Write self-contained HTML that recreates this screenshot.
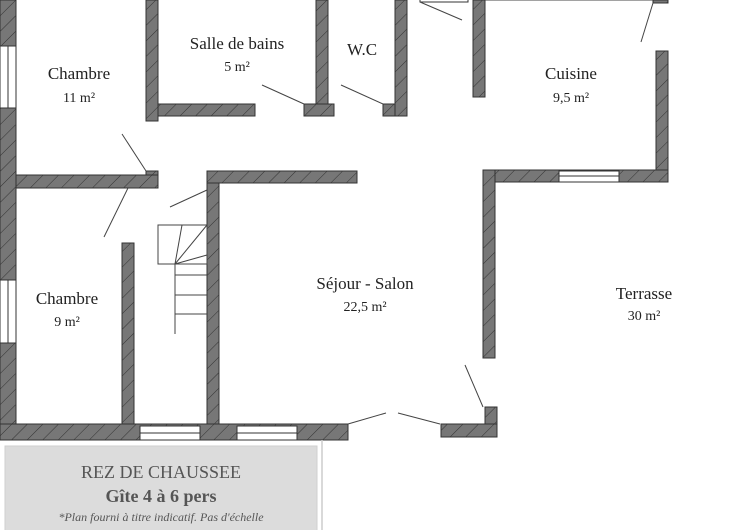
<!DOCTYPE html>
<html><head><meta charset="utf-8"><style>
html,body{margin:0;padding:0;background:#fff;width:745px;height:530px;overflow:hidden}
svg{display:block}
</style></head><body>
<svg width="745" height="530" viewBox="0 0 745 530" xmlns="http://www.w3.org/2000/svg">
<defs>
<pattern id="h" width="11" height="11" patternUnits="userSpaceOnUse" patternTransform="rotate(45)">
<rect width="11" height="11" fill="#777"/><line x1="0" y1="0" x2="0" y2="11" stroke="#333" stroke-width="1"/>
</pattern>
</defs>
<g fill="url(#h)" stroke="#333" stroke-width="1">
<rect x="0" y="0" width="16" height="440"/>
<rect x="146" y="0" width="12" height="121"/>
<rect x="158" y="104" width="97" height="12"/>
<rect x="304" y="104" width="30" height="12"/>
<rect x="316" y="0" width="12" height="104"/>
<rect x="395" y="0" width="12" height="116"/>
<rect x="383" y="104" width="12" height="12"/>
<rect x="473" y="0" width="12" height="97"/>
<rect x="16" y="175" width="142" height="13"/>
<rect x="146" y="171" width="12" height="4"/>
<rect x="207" y="171" width="150" height="12"/>
<rect x="207" y="183" width="12" height="241"/>
<rect x="122" y="243" width="12" height="181"/>
<rect x="0" y="424" width="348" height="16"/>
<rect x="441" y="424" width="56" height="13"/>
<rect x="485" y="407" width="12" height="17"/>
<rect x="483" y="170" width="12" height="188"/>
<rect x="495" y="170" width="173" height="12"/>
<rect x="656" y="51" width="12" height="119"/>
<rect x="653" y="0" width="15" height="3"/>
</g>
<g fill="#fff" stroke="#333" stroke-width="1">
<rect x="0" y="46" width="16" height="62"/><line x1="8" y1="46" x2="8" y2="108"/>
<rect x="0" y="280" width="16" height="63"/><line x1="8" y1="280" x2="8" y2="343"/>
<rect x="140" y="426" width="60" height="14"/><line x1="140" y1="433" x2="200" y2="433"/>
<rect x="237" y="426" width="60" height="14"/><line x1="237" y1="433" x2="297" y2="433"/>
<rect x="559" y="171" width="60" height="11"/><line x1="559" y1="176" x2="619" y2="176"/>
<rect x="420" y="-1" width="48" height="3"/>
</g>
<g stroke="#444" stroke-width="1" fill="none">
<line x1="420" y1="2" x2="462" y2="20"/>
<line x1="262" y1="85" x2="304" y2="104"/>
<line x1="341" y1="85" x2="383" y2="104"/>
<line x1="122" y1="134" x2="146" y2="171"/>
<line x1="128" y1="188" x2="104" y2="237"/>
<line x1="170" y1="207" x2="207" y2="190"/>
<line x1="653" y1="3" x2="641" y2="42"/>
<line x1="348" y1="424" x2="386" y2="413"/>
<line x1="398" y1="413" x2="440" y2="424"/>
<line x1="465" y1="365" x2="483" y2="407"/>
<rect x="158" y="225" width="49" height="39"/>
<line x1="175" y1="264" x2="175" y2="334"/>
<line x1="175" y1="264" x2="182" y2="225"/>
<line x1="175" y1="264" x2="207" y2="225"/>
<line x1="175" y1="264" x2="207" y2="255"/>
<line x1="175" y1="275" x2="207" y2="275"/>
<line x1="175" y1="295" x2="207" y2="295"/>
<line x1="175" y1="314" x2="207" y2="314"/>
<line x1="485" y1="0" x2="653" y2="0"/>
</g>
<line x1="322" y1="440" x2="322" y2="530" stroke="#ccc" stroke-width="1.5"/>
<rect x="5" y="446" width="312" height="90" fill="#dcdcdc" stroke="#cfcfcf"/>
<g font-family="Liberation Serif, serif" fill="#222" text-anchor="middle">
<text x="79" y="79" font-size="17">Chambre</text><text x="79" y="102" font-size="14">11 m²</text>
<text x="237" y="49" font-size="17">Salle de bains</text><text x="237" y="71" font-size="14">5 m²</text>
<text x="362" y="55" font-size="17">W.C</text>
<text x="571" y="79" font-size="17">Cuisine</text><text x="571" y="102" font-size="14">9,5 m²</text>
<text x="67" y="304" font-size="17">Chambre</text><text x="67" y="326" font-size="14">9 m²</text>
<text x="365" y="289" font-size="17">Séjour - Salon</text><text x="365" y="311" font-size="14">22,5 m²</text>
<text x="644" y="299" font-size="17">Terrasse</text><text x="644" y="320" font-size="14">30 m²</text>
<text x="161" y="478" font-size="18" fill="#555">REZ DE CHAUSSEE</text>
<text x="161" y="502" font-size="18" font-weight="bold" fill="#555">Gîte 4 à 6 pers</text>
<text x="161" y="521" font-size="12" font-style="italic" fill="#555">*Plan fourni à titre indicatif. Pas d'échelle</text>
</g>
</svg>
</body></html>
